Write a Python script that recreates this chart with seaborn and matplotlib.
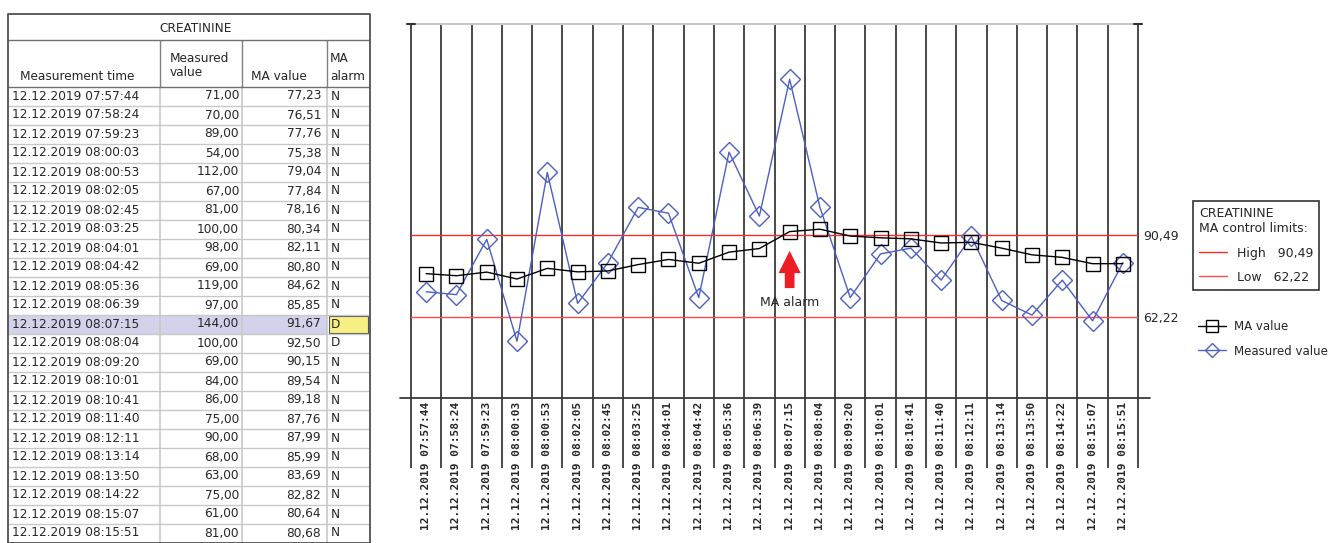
import matplotlib
matplotlib.use("Agg")
import matplotlib.pyplot as plt
import seaborn as sns
from matplotlib.patches import Rectangle
from matplotlib.lines import Line2D

# data
times = ["12.12.2019 07:57:44", "12.12.2019 07:58:24", "12.12.2019 07:59:23",
         "12.12.2019 08:00:03", "12.12.2019 08:00:53", "12.12.2019 08:02:05",
         "12.12.2019 08:02:45", "12.12.2019 08:03:25", "12.12.2019 08:04:01",
         "12.12.2019 08:04:42", "12.12.2019 08:05:36", "12.12.2019 08:06:39",
         "12.12.2019 08:07:15", "12.12.2019 08:08:04", "12.12.2019 08:09:20",
         "12.12.2019 08:10:01", "12.12.2019 08:10:41", "12.12.2019 08:11:40",
         "12.12.2019 08:12:11", "12.12.2019 08:13:14", "12.12.2019 08:13:50",
         "12.12.2019 08:14:22", "12.12.2019 08:15:07", "12.12.2019 08:15:51"]
measured = [71, 70, 89, 54, 112, 67, 81, 100, 98, 69, 119, 97,
            144, 100, 69, 84, 86, 75, 90, 68, 63, 75, 61, 81]
ma_value = [77.23, 76.51, 77.76, 75.38, 79.04, 77.84, 78.16, 80.34, 82.11, 80.80, 84.62, 85.85,
            91.67, 92.50, 90.15, 89.54, 89.18, 87.76, 87.99, 85.99, 83.69, 82.82, 80.64, 80.68]
ma_alarm = ["N"] * 12 + ["D", "D"] + ["N"] * 10
high_limit = 90.49
low_limit = 62.22
alarm_idx = 12

sns.set_style("white")
plt.rcParams["font.family"] = ["DejaVu Sans"]

W, H = 1333, 543
fig = plt.figure(figsize=(W / 100, H / 100), dpi=100)


def fmt(v):
    return f"{v:.2f}".replace(".", ",")


# ---------------- table on the left ----------------
tx = fig.add_axes([8 / W, 0, 362 / W, 529 / H])
tx.set_xlim(0, 362)
tx.set_ylim(529, 0)
tx.axis("off")

cols = [0, 152, 234, 319, 362]
row0 = 72.5
rh = 19.0
fs = 8.7

# highlighted row
hy = row0 + rh * alarm_idx
tx.add_patch(Rectangle((0, hy), 319, rh, color="#d2d2ea", lw=0))
tx.add_patch(Rectangle((320.5, hy + 1), 39, rh - 2, facecolor="#f6f084",
                       edgecolor="#555555", lw=0.8))

# grid lines
light = "#c8c8c8"
for i in range(1, len(times)):
    y = row0 + rh * i
    tx.plot([0, 362], [y, y], color=light, lw=1)
for c in cols[1:-1]:
    tx.plot([c, c], [row0, 529], color=light, lw=1.2)
    tx.plot([c, c], [26, row0], color="#808080", lw=1)
tx.plot([0, 362], [26, 26], color="#707070", lw=1)
tx.plot([0, 362], [row0, row0], color="#707070", lw=1)
tx.plot([0, 362, 362, 0, 0], [529, 529, 0, 0, 529], color="#505050", lw=1.3,
        clip_on=False)

tx.text(188, 14, "CREATININE", ha="center", va="center", fontsize=fs)
tx.text(12, 62, "Measurement time", ha="left", va="center", fontsize=fs)
tx.text(162, 44, "Measured", ha="left", va="center", fontsize=fs)
tx.text(162, 58, "value", ha="left", va="center", fontsize=fs)
tx.text(243, 62, "MA value", ha="left", va="center", fontsize=fs)
tx.text(322, 44, "MA", ha="left", va="center", fontsize=fs)
tx.text(322, 62, "alarm", ha="left", va="center", fontsize=fs)

for i, (t, m, a, al) in enumerate(zip(times, measured, ma_value, ma_alarm)):
    y = row0 + rh * (i + 0.5)
    tx.text(4, y, t, ha="left", va="center", fontsize=fs)
    tx.text(231, y, fmt(m), ha="right", va="center", fontsize=fs)
    tx.text(313, y, fmt(a), ha="right", va="center", fontsize=fs)
    tx.text(323, y, al, ha="left", va="center", fontsize=fs)

# ---------------- chart ----------------
ax = fig.add_axes([411 / W, (H - 398) / H, (1138 - 411) / W, (398 - 24) / H])
idx = list(range(len(times)))

line_col = "#3a3a3a"
ax.vlines([i - 0.5 for i in range(len(times) + 1)], -0.187, 1,
          transform=ax.get_xaxis_transform(), color=line_col, lw=1.3,
          clip_on=False, zorder=1)
ax.plot([-0.015, 1.016], [0, 0], transform=ax.transAxes, color=line_col,
        lw=1.3, clip_on=False)
ax.plot([0, 1], [1, 1], transform=ax.transAxes, color="#c8c8c8", lw=1.5,
        clip_on=False)
for x0 in (-0.006, 0.994):
    ax.plot([x0, x0 + 0.012], [1, 1], transform=ax.transAxes, color="#303030",
            lw=1.5, clip_on=False)

hi = ax.axhline(high_limit, color="#ff2a2a", lw=1, zorder=2)
lo = ax.axhline(low_limit, color="#ff4a4a", lw=1, zorder=2)

sns.lineplot(x=idx, y=measured, ax=ax, color="#4c5fc4", lw=1, marker="D",
             markersize=10, markerfacecolor="none", markeredgecolor="#4c5fc4",
             markeredgewidth=1, zorder=3)
sns.lineplot(x=idx, y=ma_value, ax=ax, color="black", lw=1, marker="s",
             markersize=10, markerfacecolor="none", markeredgecolor="black",
             markeredgewidth=1, zorder=4)

ax.annotate("", xy=(alarm_idx, 86.0), xytext=(alarm_idx, 71.3),
            arrowprops=dict(arrowstyle="simple,head_width=1.6,head_length=1.6,tail_width=0.7",
                            color="#ee1c25", mutation_scale=10, lw=0))
ax.text(alarm_idx, 67.4, "MA alarm", ha="center", va="center", fontsize=9)

ax.set_xlim(-0.5, len(times) - 0.5)
ax.set_ylim(34.5, 163)
for s in ax.spines.values():
    s.set_visible(False)

ax.set_xticks(idx)
ax.set_xticklabels(times, rotation=90, fontfamily="DejaVu Sans Mono",
                   fontweight="bold", fontsize=8)
ax.yaxis.tick_right()
ax.set_yticks([low_limit, high_limit])
ax.set_yticklabels([fmt(low_limit), fmt(high_limit)], fontsize=9)
ax.tick_params(axis="both", length=0)
ax.tick_params(axis="x", pad=3)
ax.tick_params(axis="y", pad=4)
ax.set_xlabel("")
ax.set_ylabel("")

# legends
lim_handles = [Line2D([], [], color="#ff2a2a", lw=1), Line2D([], [], color="#ff4a4a", lw=1)]
leg1 = ax.legend(lim_handles, ["High   90,49", "Low   62,22"],
                 title="CREATININE\nMA control limits:", alignment="left",
                 loc="upper left", bbox_to_anchor=(1193 / W, 1 - 201 / H),
                 bbox_transform=fig.transFigure, borderaxespad=0,
                 fontsize=9, title_fontsize=9, fancybox=False,
                 edgecolor="#333333", framealpha=1, handlelength=2.2,
                 handletextpad=0.8, labelspacing=0.9, borderpad=0.5)
leg1.get_frame().set_linewidth(1.2)
ax.add_artist(leg1)

ser_handles = [Line2D([], [], color="black", lw=1, marker="s", markersize=8,
                      markerfacecolor="none"),
               Line2D([], [], color="#4c5fc4", lw=1, marker="D", markersize=7,
                      markerfacecolor="none")]
ax.legend(ser_handles, ["MA value", "Measured value"], loc="upper left",
          bbox_to_anchor=(1193 / W, 1 - 315 / H), bbox_transform=fig.transFigure,
          borderaxespad=0, frameon=False, fontsize=8.5, handlelength=2.4,
          handletextpad=0.7, labelspacing=1.0)

fig.savefig("out.png", dpi=100)
